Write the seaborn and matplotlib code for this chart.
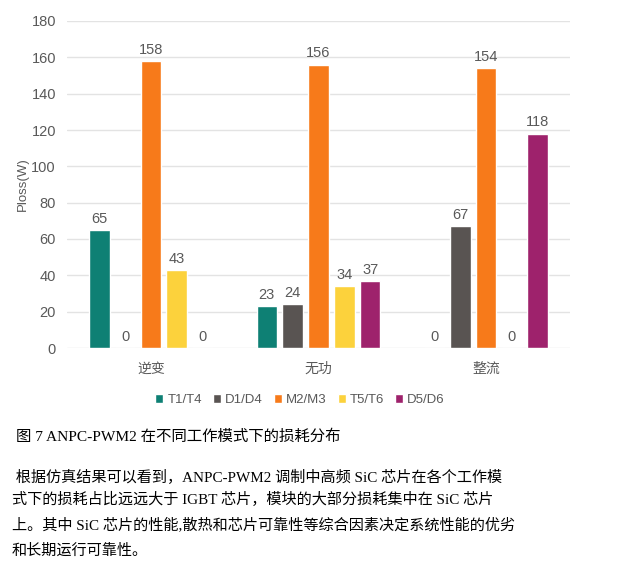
import matplotlib
matplotlib.use("Agg")
import matplotlib.pyplot as plt
import seaborn as sns
import pandas as pd

modes = ["逆变", "无功", "整流"]
devices = ["T1/T4", "D1/D4", "M2/M3", "T5/T6", "D5/D6"]
loss_inv = [65, 0, 158, 43, 0]
loss_rea = [23, 24, 156, 34, 37]
loss_rec = [0, 67, 154, 0, 118]
yticks = [0, 20, 40, 60, 80, 100, 120, 140, 160, 180]
colors = ["#0E8074", "#595452", "#F77A1A", "#FCD23C", "#9E226C"]

caption = "图 7 ANPC-PWM2 在不同工作模式下的损耗分布"
para = [
    " 根据仿真结果可以看到，ANPC-PWM2 调制中高频 SiC 芯片在各个工作模",
    "式下的损耗占比远远大于 IGBT 芯片，模块的大部分损耗集中在 SiC 芯片",
    "上。其中 SiC 芯片的性能,散热和芯片可靠性等综合因素决定系统性能的优劣",
    "和长期运行可靠性。",
]

rows = []
for m, vals in zip(modes, [loss_inv, loss_rea, loss_rec]):
    for d, v in zip(devices, vals):
        rows.append({"mode": m, "device": d, "loss": v})
df = pd.DataFrame(rows)

sns.set_theme(style="white")
plt.rcParams["font.family"] = ["Liberation Sans", "Noto Sans CJK SC", "DejaVu Sans"]

W, H = 644, 567
fig = plt.figure(figsize=(W / 100, H / 100), dpi=100)
ax = fig.add_axes([67 / W, 1 - 348 / H, (570 - 67) / W, (348 - 21) / H])

sns.barplot(data=df, x="mode", y="loss", hue="device", hue_order=devices,
            order=modes, palette=colors, width=0.77, gap=0.2, ax=ax,
            saturation=1, legend=True)

txtc = "#595959"
for c in ax.containers:
    ax.bar_label(c, fmt="%g", padding=3, fontsize=10.5, color=txtc)

ax.set_ylim(0, 180)
ax.set_xlim(-0.5, 2.5)
ax.set_yticks(yticks)
ax.yaxis.grid(True, color="#E3E3E3", linewidth=1)
ax.set_axisbelow(True)
for s in ax.spines.values():
    s.set_visible(False)
ax.tick_params(axis="y", length=0, labelsize=10.5, colors=txtc, pad=8)
ax.tick_params(axis="x", length=0, pad=10, labelsize=10, colors=txtc)
ax.set_xlabel("")
ax.set_ylabel("Ploss(W)", fontsize=9.5, color=txtc, labelpad=2)

handles, labels = ax.get_legend_handles_labels()
ax.get_legend().remove()
fig.legend(handles, labels, loc="center", bbox_to_anchor=(300 / W, 1 - 400 / H),
           ncol=5, frameon=False, fontsize=9.5, handlelength=0.6, handleheight=0.6,
           handletextpad=0.3, columnspacing=0.85, labelcolor=txtc)

serif = ["Liberation Serif", "Noto Sans CJK SC", "DejaVu Sans"]
fig.text(16 / W, 1 - 437 / H, caption, fontsize=11.1, family=serif,
         va="center", ha="left", color="black")
ys = [477, 499, 525, 551]
xs = [12, 12, 12, 12]
for line, y, x in zip(para, ys, xs):
    fig.text(x / W, 1 - y / H, line, fontsize=10.9, family=serif,
             va="center", ha="left", color="black")

fig.savefig("out.png", dpi=100)
